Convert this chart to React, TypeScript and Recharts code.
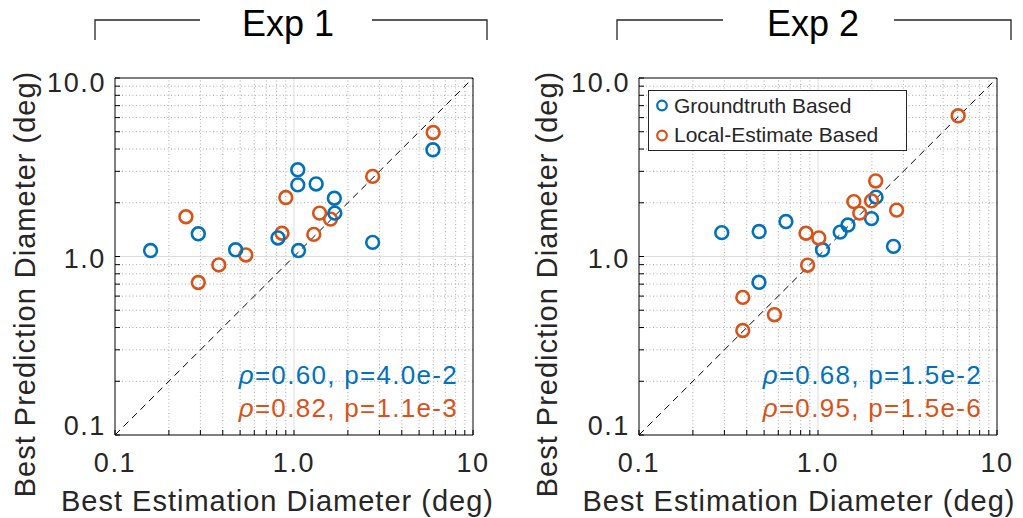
import React from "react";
import { ScatterChart, Scatter, XAxis, YAxis, ReferenceLine, Legend } from "recharts";

const FONT = '"Liberation Sans", Arial, Helvetica, sans-serif';
const INK = "#262626";
const BLUE = "#0072BD";
const ORANGE = "#D95319";

const seriesNames = ["Groundtruth Based", "Local-Estimate Based"];
const panelTitles = ["Exp 1", "Exp 2"];
const xTitle = "Best Estimation Diameter (deg)";
const yTitle = "Best Prediction Diameter (deg)";

// Exp 1
const exp1GroundX = [0.158, 0.292, 0.472, 0.814, 1.05, 1.05, 1.06, 1.33, 1.68, 1.69, 2.75, 5.97];
const exp1GroundY = [1.08, 1.34, 1.09, 1.27, 3.06, 2.52, 1.08, 2.55, 2.12, 1.75, 1.2, 3.96];
const exp1LocalX = [0.249, 0.292, 0.38, 0.538, 0.857, 0.9, 1.29, 1.39, 1.6, 2.75, 5.99];
const exp1LocalY = [1.67, 0.715, 0.897, 1.02, 1.35, 2.14, 1.33, 1.75, 1.62, 2.81, 4.95];

// Exp 2
const exp2GroundX = [0.29, 0.469, 0.468, 0.662, 1.06, 1.33, 1.47, 1.99, 2.11, 2.64];
const exp2GroundY = [1.36, 1.38, 0.717, 1.57, 1.09, 1.37, 1.5, 1.63, 2.15, 1.14];
const exp2LocalX = [0.38, 0.38, 0.571, 0.857, 1.01, 0.875, 1.585, 1.71, 1.99, 2.1, 2.75, 6.07];
const exp2LocalY = [0.59, 0.385, 0.472, 1.35, 1.27, 0.894, 2.03, 1.75, 2.05, 2.65, 1.82, 6.14];

const exp1Stats = ["=0.60, p=4.0e-2", "=0.82, p=1.1e-3"];
const exp2Stats = ["=0.68, p=1.5e-2", "=0.95, p=1.5e-6"];

const logTicks = [
  0.1, 0.2, 0.3, 0.4, 0.5, 0.6, 0.7, 0.8, 0.9,
  1, 2, 3, 4, 5, 6, 7, 8, 9, 10,
];
const majorTicks = [0.1, 1, 10];
const minorTicks = logTicks.filter((v) => !majorTicks.includes(v));
const xTickLabels: Record<string, string> = { "0.1": "0.1", "1": "1.0", "10": "10" };
const yTickLabels: Record<string, string> = { "0.1": "0.1", "1": "1.0", "10": "10.0" };

const pairs = (xs: number[], ys: number[]) => xs.map((x, i) => ({ x, y: ys[i] }));

const ring = (color: string) => (p: any) => (
  <circle cx={p.cx} cy={p.cy} r={6.4} fill="none" stroke={color} strokeWidth={2.6} />
);

const XTick = (p: any) => {
  const label = xTickLabels[String(p.payload.value)];
  if (!label) return <g />;
  return (
    <text x={p.x} y={p.y + 42} textAnchor="middle" fill={INK} fontSize={27} fontFamily={FONT} letterSpacing={1.6}>
      {label}
    </text>
  );
};

const YTick = (p: any) => {
  const v = p.payload.value;
  const label = yTickLabels[String(v)];
  if (!label) return <g />;
  const dy = v === 10 ? 14 : v === 1 ? 11 : 0;
  return (
    <text x={p.x - 14} y={p.y + dy} textAnchor="end" fill={INK} fontSize={27} fontFamily={FONT} letterSpacing={1.6}>
      {label}
    </text>
  );
};

const LegendBox = () => (
  <div
    style={{
      border: `1px solid ${INK}`,
      background: "#fff",
      width: 259,
      height: 61,
      boxSizing: "border-box",
      fontFamily: FONT,
      fontSize: 21,
      color: INK,
    }}
  >
    {seriesNames.map((name, i) => (
      <div key={name} style={{ display: "flex", alignItems: "center", height: 29.5 }}>
        <svg width={25} height={29} style={{ flex: "none" }}>
          <circle cx={13} cy={14.5} r={4.8} fill="none" stroke={i === 0 ? BLUE : ORANGE} strokeWidth={2.2} />
        </svg>
        <span style={{ whiteSpace: "nowrap" }}>{name}</span>
      </div>
    ))}
  </div>
);

const axisCommon = {
  type: "number" as const,
  scale: "log" as const,
  domain: [0.1, 10],
  allowDataOverflow: true,
  ticks: logTicks,
  interval: 0 as const,
  tickSize: -5,
  tickMargin: 0,
  axisLine: { stroke: "#000", strokeWidth: 1 },
  tickLine: { stroke: "#000", strokeWidth: 1 },
};

type PanelProps = {
  ground: { x: number; y: number }[];
  local: { x: number; y: number }[];
  showLegend: boolean;
  blueOnTop: boolean;
};

const Panel = ({ ground, local, showLegend, blueOnTop }: PanelProps) => {
  const series = [
    { name: seriesNames[0], data: ground, color: BLUE },
    { name: seriesNames[1], data: local, color: ORANGE },
  ];
  const order = blueOnTop ? [series[1], series[0]] : series;
  return (
    <ScatterChart width={500} height={518} margin={{ top: 77, right: 26, bottom: 82, left: 114 }}>
      {minorTicks.map((v) => (
        <ReferenceLine key={"gx" + v} x={v} stroke="#aaaaaa" strokeDasharray="1 2.5" />
      ))}
      {minorTicks.map((v) => (
        <ReferenceLine key={"gy" + v} y={v} stroke="#aaaaaa" strokeDasharray="1 2.5" />
      ))}
      <ReferenceLine x={1} stroke="#dcdcdc" />
      <ReferenceLine y={1} stroke="#dcdcdc" />
      <ReferenceLine
        segment={[
          { x: 0.1, y: 0.1 },
          { x: 10, y: 10 },
        ]}
        stroke="#000"
        strokeDasharray="7 5"
      />
      <XAxis dataKey="x" height={1} tick={XTick} {...axisCommon} />
      <XAxis xAxisId="top" orientation="top" height={1} tick={false} {...axisCommon} />
      <YAxis dataKey="y" width={1} tick={YTick} {...axisCommon} />
      <YAxis yAxisId="right" orientation="right" width={1} tick={false} {...axisCommon} />
      {order.map((s) => (
        <Scatter key={s.name} name={s.name} data={s.data} shape={ring(s.color)} isAnimationActive={false} />
      ))}
      {showLegend && (
        <Legend
          layout="vertical"
          align="center"
          verticalAlign="middle"
          wrapperStyle={{ left: 124, top: 90, width: 259, height: 61 }}
          content={() => <LegendBox />}
        />
      )}
    </ScatterChart>
  );
};

const Stats = ({ lines, right }: { lines: string[]; right: number }) => (
  <g fontFamily={FONT} fontSize={26} letterSpacing={1.3} textAnchor="end">
    {lines.map((t, i) => (
      <text key={t} x={right} y={384 + i * 33} fill={i === 0 ? BLUE : ORANGE}>
        <tspan fontStyle="italic">ρ</tspan>
        {t}
      </text>
    ))}
  </g>
);

const Decor = () => (
  <svg
    width={1023}
    height={518}
    style={{ position: "absolute", left: 0, top: 0, pointerEvents: "none" }}
  >
    <g stroke={INK} strokeWidth={1.3} fill="none">
      <path d="M95 40 V20 H200" />
      <path d="M372 20 H487 V40" />
      <path d="M617 40 V20 H723" />
      <path d="M894 20 H1011 V40" />
    </g>
    <g fontFamily={FONT} fill="#000" fontSize={36} textAnchor="middle">
      <text x={288} y={36}>{panelTitles[0]}</text>
      <text x={813} y={36}>{panelTitles[1]}</text>
    </g>
    <g fontFamily={FONT} fill={INK} fontSize={29} letterSpacing={1} textAnchor="middle">
      <text x={277.5} y={511}>{xTitle}</text>
      <text x={799} y={511}>{xTitle}</text>
      <text transform="translate(35,284) rotate(-90)">{yTitle}</text>
      <text transform="translate(557,284) rotate(-90)">{yTitle}</text>
    </g>
    <Stats lines={exp1Stats} right={458} />
    <Stats lines={exp2Stats} right={982} />
  </svg>
);

export default function App() {
  return (
    <div style={{ position: "absolute", left: 0, top: 0, width: 1023, height: 518, background: "#fff", overflow: "hidden" }}>
      <div style={{ position: "absolute", left: 0, top: 0 }}>
        <Panel ground={pairs(exp1GroundX, exp1GroundY)} local={pairs(exp1LocalX, exp1LocalY)} showLegend={false} blueOnTop />
      </div>
      <div style={{ position: "absolute", left: 524, top: 0 }}>
        <Panel ground={pairs(exp2GroundX, exp2GroundY)} local={pairs(exp2LocalX, exp2LocalY)} showLegend blueOnTop={false} />
      </div>
      <Decor />
    </div>
  );
}
